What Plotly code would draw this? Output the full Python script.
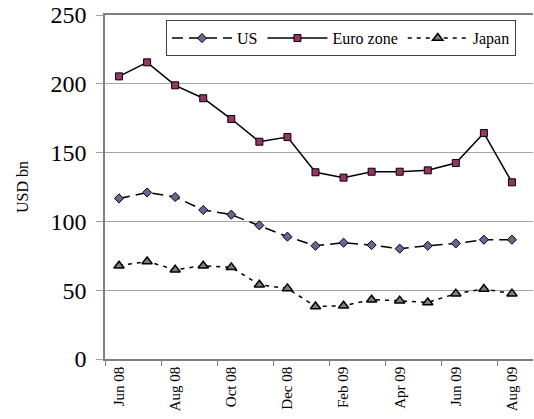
import plotly.graph_objects as go

months = ["Jun 08", "Jul 08", "Aug 08", "Sep 08", "Oct 08", "Nov 08", "Dec 08",
          "Jan 09", "Feb 09", "Mar 09", "Apr 09", "May 09", "Jun 09", "Jul 09", "Aug 09"]
us = [116.7, 121.0, 117.7, 108.3, 104.9, 97.1, 88.9, 82.3, 84.5, 82.8, 80.2, 82.3, 84.0, 86.7, 86.7]
euro = [205.4, 215.6, 198.9, 189.5, 174.4, 157.9, 161.3, 135.7, 131.8, 136.1, 136.1, 137.1, 142.4, 164.2, 128.4]
japan = [67.8, 70.9, 64.9, 67.8, 66.6, 54.0, 51.3, 38.2, 38.7, 43.1, 42.4, 41.1, 47.5, 50.9, 47.5]
y_ticks = [0, 50, 100, 150, 200, 250]

x = list(range(len(months)))
FONT = "Liberation Serif"

fig = go.Figure()
fig.add_trace(go.Scatter(
    x=x, y=us, name="US", mode="lines+markers",
    line=dict(color="black", width=1.5, dash="11px,6px"),
    marker=dict(symbol="diamond", size=7, color="#666699", line=dict(color="black", width=1)),
))
fig.add_trace(go.Scatter(
    x=x, y=euro, name="Euro zone", mode="lines+markers",
    line=dict(color="black", width=1.5),
    marker=dict(symbol="square", size=7, color="#993366", line=dict(color="black", width=1)),
))
fig.add_trace(go.Scatter(
    x=x, y=japan, name="Japan", mode="lines+markers",
    line=dict(color="black", width=1.5, dash="4px,5px"),
    marker=dict(symbol="triangle-up", size=9, color="#808080", line=dict(color="black", width=1.5)),
))

fig.update_layout(
    width=534, height=419,
    margin=dict(l=105, r=1, t=15, b=60),
    paper_bgcolor="white", plot_bgcolor="white",
    font=dict(family=FONT, color="black"),
    showlegend=True,
    legend=dict(
        orientation="h", x=0.1425, y=0.985, xanchor="left", yanchor="top",
        bordercolor="#404040", borderwidth=1, bgcolor="white",
        itemwidth=60,
        font=dict(family=FONT, size=16, color="black"),
    ),
)
fig.update_xaxes(
    range=[-0.5, 14.75],
    tickmode="array", tickvals=x[::2], ticktext=months[::2],
    tickangle=-90, tickfont=dict(family=FONT, size=15, color="black"),
    ticks="", showgrid=False, zeroline=False,
    showline=True, linecolor="#808080", linewidth=1.5, mirror=True,
    minor=dict(tickmode="array", tickvals=[i - 0.5 for i in x[::2]],
               ticks="outside", ticklen=5, tickcolor="#808080", tickwidth=1, showgrid=False),
)
fig.update_yaxes(
    range=[0, 250], tickmode="array", tickvals=y_ticks,
    tickfont=dict(family=FONT, size=24, color="black"),
    ticks="outside", ticklen=7, tickcolor="#a0a0a0", tickwidth=1,
    ticklabelstandoff=5,
    showgrid=True, gridcolor="#a6a6a6", gridwidth=1, zeroline=False,
    showline=True, linecolor="#808080", linewidth=1.5,
    title=dict(text="USD bn", font=dict(family=FONT, size=16), standoff=18),
)
fig.write_html("out.html", config={"displayModeBar": False},
               post_script="document.body.style.margin='0';")
